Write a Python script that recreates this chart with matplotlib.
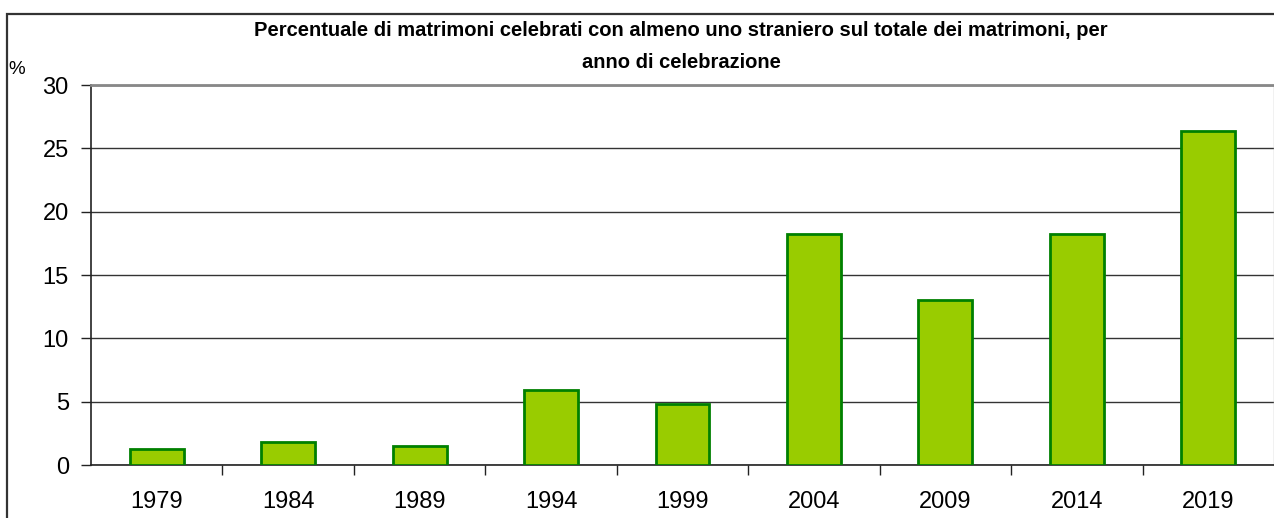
import matplotlib.pyplot as plt
from matplotlib.patches import Rectangle

plt.rcParams['font.family'] = ['Liberation Sans', 'DejaVu Sans']

# anno di celebrazione e percentuale di matrimoni con almeno uno straniero
anni = ['1979', '1984', '1989', '1994', '1999', '2004', '2009', '2014', '2019']
percentuali = [1.3, 1.8, 1.5, 5.9, 4.8, 18.2, 13.0, 18.2, 26.4]

fig = plt.figure(figsize=(12.74, 5.18), dpi=100)
ax = fig.add_axes([91 / 1274, 53 / 518, 1 - 91 / 1274, 380 / 518])

x = range(len(anni))
ax.bar(x, percentuali, width=0.41, color='#99CC00', edgecolor='#008000',
       linewidth=2.0, zorder=3)

ax.set_xlim(-0.5, len(anni) - 0.5)
ax.set_ylim(0, 30)
ax.set_yticks(range(0, 31, 5))
ax.set_xticks(list(x))
ax.set_xticklabels(anni)
ax.set_xticks([i + 0.5 for i in range(len(anni) - 1)], minor=True)

ax.tick_params(axis='y', length=7, width=1, pad=9, labelsize=17, color='#222222')
ax.tick_params(axis='x', which='major', length=0, pad=19, labelsize=17)
ax.tick_params(axis='x', which='minor', length=7, width=1, color='#222222')

ax.yaxis.grid(True, color='#333333', linewidth=1.0, zorder=0)
ax.set_axisbelow(True)

ax.spines['left'].set_color('#222222')
ax.spines['left'].set_linewidth(1.2)
ax.spines['bottom'].set_color('#222222')
ax.spines['bottom'].set_linewidth(1.2)
ax.spines['top'].set_color('#888888')
ax.spines['top'].set_linewidth(2.0)
ax.spines['right'].set_color('#bbbbbb')
ax.spines['right'].set_linewidth(1.0)

fig.text(681 / 1274, 1 - 31 / 518,
         'Percentuale di matrimoni celebrati con almeno uno straniero sul totale dei matrimoni, per',
         ha='center', va='center', fontsize=14.5, fontweight='bold')
fig.text(681 / 1274, 1 - 63 / 518, 'anno di celebrazione',
         ha='center', va='center', fontsize=14.5, fontweight='bold')
fig.text(8 / 1274, 1 - 69 / 518, '%', ha='left', va='center', fontsize=13.5)

# cornice esterna del grafico
fig.patches.append(Rectangle((7 / 1274, -0.05), 1.1, 1 - 14 / 518 + 0.05,
                             transform=fig.transFigure, fill=False,
                             edgecolor='#333333', linewidth=1.6))

fig.savefig('out.png', dpi=100)
